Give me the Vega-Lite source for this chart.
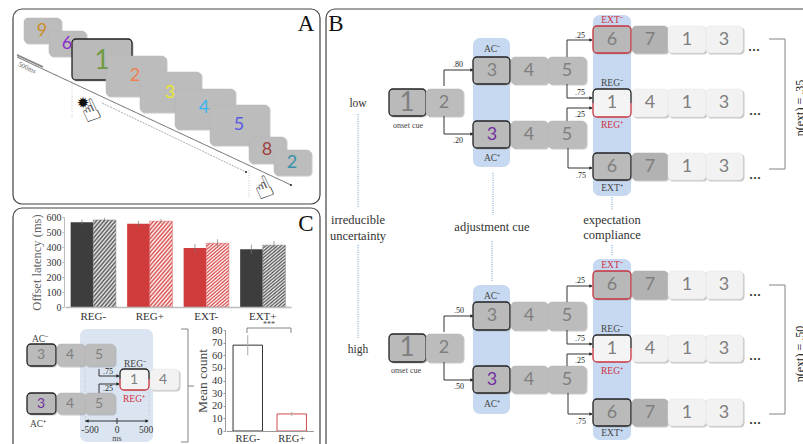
{
  "$schema": "https://vega.github.io/schema/vega-lite/v6.json",
  "width": 803,
  "height": 444,
  "padding": 0,
  "autosize": "none",
  "background": "white",
  "config": {"view": {"stroke": null}},
  "datasets": {
    "frames": [
      {"x": 13, "x2": 320, "y": 9, "y2": 204},
      {"x": 13, "x2": 320, "y": 208, "y2": 452},
      {"x": 326, "x2": 830, "y": 9, "y2": 456}
    ],
    "bands": [
      {"x": 473, "x2": 510, "y": 38, "y2": 167, "kind": "b"},
      {"x": 593, "x2": 631, "y": 15, "y2": 196, "kind": "b"},
      {"x": 473, "x2": 510, "y": 285, "y2": 414, "kind": "b"},
      {"x": 593, "x2": 631, "y": 259, "y2": 440, "kind": "b"},
      {"x": 80, "x2": 153, "y": 329, "y2": 442, "kind": "p"}
    ],
    "boxes": [
      {"x": 24, "x2": 61, "y": 18, "y2": 43, "kind": "g"},
      {"x": 49, "x2": 86, "y": 31, "y2": 56, "kind": "g"},
      {"x": 72, "x2": 132, "y": 39, "y2": 80, "kind": "k"},
      {"x": 106, "x2": 166, "y": 56, "y2": 96, "kind": "g"},
      {"x": 140, "x2": 201, "y": 72, "y2": 112, "kind": "g"},
      {"x": 175, "x2": 235, "y": 89, "y2": 129, "kind": "g"},
      {"x": 210, "x2": 269, "y": 105, "y2": 145, "kind": "g"},
      {"x": 249, "x2": 286, "y": 137, "y2": 163, "kind": "g"},
      {"x": 274, "x2": 311, "y": 150, "y2": 175, "kind": "g"},

      {"x": 27, "x2": 56, "y": 344, "y2": 366, "kind": "k"},
      {"x": 57, "x2": 85, "y": 344, "y2": 366, "kind": "g"},
      {"x": 85, "x2": 115, "y": 344, "y2": 366, "kind": "g"},
      {"x": 27, "x2": 56, "y": 393, "y2": 414, "kind": "k"},
      {"x": 57, "x2": 85, "y": 393, "y2": 414, "kind": "g"},
      {"x": 85, "x2": 115, "y": 393, "y2": 414, "kind": "g"},
      {"x": 150, "x2": 179, "y": 369, "y2": 390, "kind": "l"},

      {"x": 389, "x2": 426, "y": 89, "y2": 116, "kind": "k"},
      {"x": 426, "x2": 463, "y": 89, "y2": 116, "kind": "g"},
      {"x": 473, "x2": 510, "y": 57, "y2": 84, "kind": "k"},
      {"x": 511, "x2": 548, "y": 57, "y2": 84, "kind": "g"},
      {"x": 548, "x2": 586, "y": 57, "y2": 84, "kind": "g"},
      {"x": 473, "x2": 510, "y": 121, "y2": 148, "kind": "k"},
      {"x": 511, "x2": 548, "y": 121, "y2": 148, "kind": "g"},
      {"x": 548, "x2": 586, "y": 121, "y2": 148, "kind": "g"},
      {"x": 593, "x2": 631, "y": 26, "y2": 53, "kind": "r"},
      {"x": 632, "x2": 668, "y": 26, "y2": 53, "kind": "d"},
      {"x": 668, "x2": 706, "y": 26, "y2": 53, "kind": "l"},
      {"x": 706, "x2": 743, "y": 26, "y2": 53, "kind": "l"},
      {"x": 632, "x2": 668, "y": 89, "y2": 117, "kind": "l"},
      {"x": 668, "x2": 706, "y": 89, "y2": 117, "kind": "l"},
      {"x": 706, "x2": 743, "y": 89, "y2": 117, "kind": "l"},
      {"x": 593, "x2": 631, "y": 153, "y2": 180, "kind": "k"},
      {"x": 632, "x2": 668, "y": 153, "y2": 180, "kind": "d"},
      {"x": 668, "x2": 706, "y": 153, "y2": 180, "kind": "l"},
      {"x": 706, "x2": 743, "y": 153, "y2": 180, "kind": "l"},

      {"x": 389, "x2": 426, "y": 334, "y2": 362, "kind": "k"},
      {"x": 426, "x2": 463, "y": 334, "y2": 362, "kind": "g"},
      {"x": 473, "x2": 510, "y": 302, "y2": 330, "kind": "k"},
      {"x": 511, "x2": 548, "y": 302, "y2": 330, "kind": "g"},
      {"x": 548, "x2": 586, "y": 302, "y2": 330, "kind": "g"},
      {"x": 473, "x2": 510, "y": 366, "y2": 393, "kind": "k"},
      {"x": 511, "x2": 548, "y": 366, "y2": 393, "kind": "g"},
      {"x": 548, "x2": 586, "y": 366, "y2": 393, "kind": "g"},
      {"x": 593, "x2": 631, "y": 271, "y2": 299, "kind": "r"},
      {"x": 632, "x2": 668, "y": 271, "y2": 299, "kind": "d"},
      {"x": 668, "x2": 706, "y": 271, "y2": 299, "kind": "l"},
      {"x": 706, "x2": 743, "y": 271, "y2": 299, "kind": "l"},
      {"x": 632, "x2": 668, "y": 335, "y2": 362, "kind": "l"},
      {"x": 668, "x2": 706, "y": 335, "y2": 362, "kind": "l"},
      {"x": 706, "x2": 743, "y": 335, "y2": 362, "kind": "l"},
      {"x": 593, "x2": 631, "y": 399, "y2": 426, "kind": "k"},
      {"x": 632, "x2": 668, "y": 399, "y2": 426, "kind": "d"},
      {"x": 668, "x2": 706, "y": 399, "y2": 426, "kind": "l"},
      {"x": 706, "x2": 743, "y": 399, "y2": 426, "kind": "l"}
    ],
    "regs": [
      {"x": 593, "x2": 631, "y": 89, "y2": 117},
      {"x": 593, "x2": 631, "y": 335, "y2": 362},
      {"x": 120, "x2": 149, "y": 369, "y2": 390}
    ],
    "segments": [
      {"x": 17, "y": 57, "x2": 291, "y2": 185, "kind": "axis"},
      {"x": 17, "y": 55, "x2": 43, "y2": 67, "kind": "thick"},
      {"x": 102, "y": 103, "x2": 246, "y2": 172, "kind": "thin"},
      {"x": 72, "y": 81, "x2": 72, "y2": 118, "kind": "dots"},
      {"x": 249, "y": 170, "x2": 249, "y2": 198, "kind": "dots"},

      {"x": 444, "y": 86, "x2": 444, "y2": 70, "kind": "conn"},
      {"x": 444, "y": 70, "x2": 472, "y2": 70, "kind": "conn"},
      {"x": 444, "y": 116, "x2": 444, "y2": 134, "kind": "conn"},
      {"x": 444, "y": 134, "x2": 472, "y2": 134, "kind": "conn"},
      {"x": 444, "y": 332, "x2": 444, "y2": 316, "kind": "conn"},
      {"x": 444, "y": 316, "x2": 472, "y2": 316, "kind": "conn"},
      {"x": 444, "y": 362, "x2": 444, "y2": 380, "kind": "conn"},
      {"x": 444, "y": 380, "x2": 472, "y2": 380, "kind": "conn"},

      {"x": 567, "y": 57, "x2": 567, "y2": 40, "kind": "conn"},
      {"x": 567, "y": 40, "x2": 592, "y2": 40, "kind": "conn"},
      {"x": 567, "y": 84, "x2": 567, "y2": 98, "kind": "conn"},
      {"x": 567, "y": 98, "x2": 592, "y2": 98, "kind": "conn"},
      {"x": 567, "y": 121, "x2": 567, "y2": 108, "kind": "conn"},
      {"x": 567, "y": 108, "x2": 592, "y2": 108, "kind": "conn"},
      {"x": 568, "y": 148, "x2": 568, "y2": 168, "kind": "conn"},
      {"x": 568, "y": 168, "x2": 592, "y2": 168, "kind": "conn"},
      {"x": 567, "y": 302, "x2": 567, "y2": 286, "kind": "conn"},
      {"x": 567, "y": 286, "x2": 592, "y2": 286, "kind": "conn"},
      {"x": 567, "y": 330, "x2": 567, "y2": 344, "kind": "conn"},
      {"x": 567, "y": 344, "x2": 592, "y2": 344, "kind": "conn"},
      {"x": 567, "y": 366, "x2": 567, "y2": 354, "kind": "conn"},
      {"x": 567, "y": 354, "x2": 592, "y2": 354, "kind": "conn"},
      {"x": 568, "y": 393, "x2": 568, "y2": 414, "kind": "conn"},
      {"x": 568, "y": 414, "x2": 592, "y2": 414, "kind": "conn"},

      {"x": 99, "y": 369, "x2": 99, "y2": 376, "kind": "conn"},
      {"x": 99, "y": 376, "x2": 119, "y2": 376, "kind": "conn"},
      {"x": 99, "y": 393, "x2": 99, "y2": 384, "kind": "conn"},
      {"x": 99, "y": 384, "x2": 119, "y2": 384, "kind": "conn"},
      {"x": 85, "y": 366, "x2": 85, "y2": 420, "kind": "dots"},
      {"x": 149, "y": 390, "x2": 149, "y2": 420, "kind": "dots"},
      {"x": 85, "y": 421, "x2": 148, "y2": 421, "kind": "conn"},
      {"x": 117, "y": 418, "x2": 117, "y2": 424, "kind": "conn"},

      {"x": 181, "y": 329, "x2": 188, "y2": 329, "kind": "bracket"},
      {"x": 188, "y": 329, "x2": 188, "y2": 442, "kind": "bracket"},
      {"x": 181, "y": 442, "x2": 188, "y2": 442, "kind": "bracket"},
      {"x": 188, "y": 386, "x2": 194, "y2": 386, "kind": "bracket"},
      {"x": 247, "y": 328, "x2": 291, "y2": 328, "kind": "bracket"},
      {"x": 247, "y": 328, "x2": 247, "y2": 333, "kind": "bracket"},
      {"x": 291, "y": 328, "x2": 291, "y2": 333, "kind": "bracket"},

      {"x": 769, "y": 39, "x2": 785, "y2": 39, "kind": "bracket"},
      {"x": 785, "y": 39, "x2": 785, "y2": 169, "kind": "bracket"},
      {"x": 769, "y": 169, "x2": 785, "y2": 169, "kind": "bracket"},
      {"x": 769, "y": 285, "x2": 785, "y2": 285, "kind": "bracket"},
      {"x": 785, "y": 285, "x2": 785, "y2": 414, "kind": "bracket"},
      {"x": 769, "y": 414, "x2": 785, "y2": 414, "kind": "bracket"},

      {"x": 358, "y": 114, "x2": 358, "y2": 208, "kind": "blue"},
      {"x": 358, "y": 245, "x2": 358, "y2": 339, "kind": "blue"},
      {"x": 493, "y": 173, "x2": 493, "y2": 215, "kind": "blue"},
      {"x": 492, "y": 241, "x2": 492, "y2": 281, "kind": "blue"},
      {"x": 612, "y": 197, "x2": 612, "y2": 210, "kind": "blue"},
      {"x": 612, "y": 245, "x2": 612, "y2": 256, "kind": "blue"}
    ],
    "heads": [
      {"x": 472, "y": 70, "dir": "right"},
      {"x": 472, "y": 134, "dir": "right"},
      {"x": 472, "y": 316, "dir": "right"},
      {"x": 472, "y": 380, "dir": "right"},
      {"x": 591, "y": 40, "dir": "right"},
      {"x": 591, "y": 98, "dir": "right"},
      {"x": 591, "y": 108, "dir": "right"},
      {"x": 591, "y": 168, "dir": "right"},
      {"x": 591, "y": 286, "dir": "right"},
      {"x": 591, "y": 344, "dir": "right"},
      {"x": 591, "y": 354, "dir": "right"},
      {"x": 591, "y": 414, "dir": "right"},
      {"x": 118, "y": 376, "dir": "right"},
      {"x": 118, "y": 384, "dir": "right"},
      {"x": 147, "y": 421, "dir": "right"},
      {"x": 87, "y": 421, "dir": "left"},
      {"x": 291, "y": 185, "dir": "dot"},
      {"x": 246, "y": 172, "dir": "dot"}
    ],
    "digits": [
      {"x": 42, "y": 31, "text": "9", "tone": "amber", "scale": "m"},
      {"x": 67, "y": 44, "text": "6", "tone": "violet", "scale": "m"},
      {"x": 102, "y": 61, "text": "1", "tone": "green", "scale": "l"},
      {"x": 135, "y": 76, "text": "2", "tone": "orange", "scale": "m"},
      {"x": 170, "y": 93, "text": "3", "tone": "yellow", "scale": "m"},
      {"x": 204, "y": 108, "text": "4", "tone": "sky", "scale": "m"},
      {"x": 239, "y": 125, "text": "5", "tone": "blue", "scale": "m"},
      {"x": 267, "y": 150, "text": "8", "tone": "maroon", "scale": "m"},
      {"x": 292, "y": 163, "text": "2", "tone": "teal", "scale": "m"},

      {"x": 41, "y": 355, "text": "3", "tone": "grey", "scale": "s"},
      {"x": 70, "y": 355, "text": "4", "tone": "grey", "scale": "s"},
      {"x": 99, "y": 355, "text": "5", "tone": "grey", "scale": "s"},
      {"x": 41, "y": 404, "text": "3", "tone": "purple", "scale": "s"},
      {"x": 70, "y": 404, "text": "4", "tone": "grey", "scale": "s"},
      {"x": 99, "y": 404, "text": "5", "tone": "grey", "scale": "s"},
      {"x": 134, "y": 380, "text": "1", "tone": "grey", "scale": "s"},
      {"x": 163, "y": 380, "text": "4", "tone": "grey", "scale": "s"},

      {"x": 407, "y": 103, "text": "1", "tone": "grey", "scale": "l"},
      {"x": 444, "y": 103, "text": "2", "tone": "grey", "scale": "m"},
      {"x": 492, "y": 71, "text": "3", "tone": "grey", "scale": "m"},
      {"x": 529, "y": 71, "text": "4", "tone": "grey", "scale": "m"},
      {"x": 567, "y": 71, "text": "5", "tone": "grey", "scale": "m"},
      {"x": 492, "y": 135, "text": "3", "tone": "purple", "scale": "m"},
      {"x": 529, "y": 135, "text": "4", "tone": "grey", "scale": "m"},
      {"x": 567, "y": 135, "text": "5", "tone": "grey", "scale": "m"},
      {"x": 612, "y": 40, "text": "6", "tone": "grey", "scale": "m"},
      {"x": 650, "y": 40, "text": "7", "tone": "grey", "scale": "m"},
      {"x": 687, "y": 40, "text": "1", "tone": "grey", "scale": "m"},
      {"x": 724, "y": 40, "text": "3", "tone": "grey", "scale": "m"},
      {"x": 612, "y": 103, "text": "1", "tone": "grey", "scale": "m"},
      {"x": 650, "y": 103, "text": "4", "tone": "grey", "scale": "m"},
      {"x": 687, "y": 103, "text": "1", "tone": "grey", "scale": "m"},
      {"x": 724, "y": 103, "text": "3", "tone": "grey", "scale": "m"},
      {"x": 612, "y": 167, "text": "6", "tone": "grey", "scale": "m"},
      {"x": 650, "y": 167, "text": "7", "tone": "grey", "scale": "m"},
      {"x": 687, "y": 167, "text": "1", "tone": "grey", "scale": "m"},
      {"x": 724, "y": 167, "text": "3", "tone": "grey", "scale": "m"},

      {"x": 407, "y": 348, "text": "1", "tone": "grey", "scale": "l"},
      {"x": 444, "y": 348, "text": "2", "tone": "grey", "scale": "m"},
      {"x": 492, "y": 316, "text": "3", "tone": "grey", "scale": "m"},
      {"x": 529, "y": 316, "text": "4", "tone": "grey", "scale": "m"},
      {"x": 567, "y": 316, "text": "5", "tone": "grey", "scale": "m"},
      {"x": 492, "y": 380, "text": "3", "tone": "purple", "scale": "m"},
      {"x": 529, "y": 380, "text": "4", "tone": "grey", "scale": "m"},
      {"x": 567, "y": 380, "text": "5", "tone": "grey", "scale": "m"},
      {"x": 612, "y": 285, "text": "6", "tone": "grey", "scale": "m"},
      {"x": 650, "y": 285, "text": "7", "tone": "grey", "scale": "m"},
      {"x": 687, "y": 285, "text": "1", "tone": "grey", "scale": "m"},
      {"x": 724, "y": 285, "text": "3", "tone": "grey", "scale": "m"},
      {"x": 612, "y": 349, "text": "1", "tone": "grey", "scale": "m"},
      {"x": 650, "y": 349, "text": "4", "tone": "grey", "scale": "m"},
      {"x": 687, "y": 349, "text": "1", "tone": "grey", "scale": "m"},
      {"x": 724, "y": 349, "text": "3", "tone": "grey", "scale": "m"},
      {"x": 612, "y": 413, "text": "6", "tone": "grey", "scale": "m"},
      {"x": 650, "y": 413, "text": "7", "tone": "grey", "scale": "m"},
      {"x": 687, "y": 413, "text": "1", "tone": "grey", "scale": "m"},
      {"x": 724, "y": 413, "text": "3", "tone": "grey", "scale": "m"}
    ],
    "labels": [
      {"x": 306, "y": 24, "text": "A", "role": "panel"},
      {"x": 336, "y": 24, "text": "B", "role": "panel"},
      {"x": 306, "y": 224, "text": "C", "role": "panel"},
      {"x": 358, "y": 104, "text": "low", "role": "cond"},
      {"x": 358, "y": 350, "text": "high", "role": "cond"},
      {"x": 358, "y": 220, "text": "irreducible", "role": "head"},
      {"x": 358, "y": 236, "text": "uncertainty", "role": "head"},
      {"x": 492, "y": 227, "text": "adjustment cue", "role": "head"},
      {"x": 612, "y": 220, "text": "expectation", "role": "head"},
      {"x": 612, "y": 235, "text": "compliance", "role": "head"},
      {"x": 408, "y": 126, "text": "onset cue", "role": "small"},
      {"x": 406, "y": 371, "text": "onset cue", "role": "small"},
      {"x": 492, "y": 49, "text": "AC⁻", "role": "cue"},
      {"x": 492, "y": 158, "text": "AC⁺", "role": "cue"},
      {"x": 492, "y": 296, "text": "AC⁻", "role": "cue"},
      {"x": 492, "y": 404, "text": "AC⁺", "role": "cue"},
      {"x": 612, "y": 20, "text": "EXT⁻", "role": "red"},
      {"x": 612, "y": 83, "text": "REG⁻", "role": "cue"},
      {"x": 612, "y": 125, "text": "REG⁺", "role": "red"},
      {"x": 612, "y": 188, "text": "EXT⁺", "role": "cue"},
      {"x": 612, "y": 265, "text": "EXT⁻", "role": "red"},
      {"x": 612, "y": 329, "text": "REG⁻", "role": "cue"},
      {"x": 612, "y": 371, "text": "REG⁺", "role": "red"},
      {"x": 612, "y": 433, "text": "EXT⁺", "role": "cue"},
      {"x": 458, "y": 65, "text": ".80", "role": "prob"},
      {"x": 458, "y": 141, "text": ".20", "role": "prob"},
      {"x": 459, "y": 311, "text": ".50", "role": "prob"},
      {"x": 459, "y": 387, "text": ".50", "role": "prob"},
      {"x": 580, "y": 36, "text": ".25", "role": "prob"},
      {"x": 580, "y": 93, "text": ".75", "role": "prob"},
      {"x": 580, "y": 115, "text": ".25", "role": "prob"},
      {"x": 581, "y": 176, "text": ".75", "role": "prob"},
      {"x": 580, "y": 281, "text": ".25", "role": "prob"},
      {"x": 580, "y": 339, "text": ".75", "role": "prob"},
      {"x": 580, "y": 361, "text": ".25", "role": "prob"},
      {"x": 581, "y": 422, "text": ".75", "role": "prob"},
      {"x": 108, "y": 372, "text": ".75", "role": "prob"},
      {"x": 108, "y": 389, "text": ".25", "role": "prob"},
      {"x": 40, "y": 339, "text": "AC⁻", "role": "cue"},
      {"x": 38, "y": 424, "text": "AC⁺", "role": "cue"},
      {"x": 135, "y": 364, "text": "REG⁻", "role": "cue"},
      {"x": 134, "y": 399, "text": "REG⁺", "role": "red"},
      {"x": 90, "y": 430, "text": "-500", "role": "tick"},
      {"x": 117, "y": 430, "text": "0", "role": "tick"},
      {"x": 146, "y": 430, "text": "500", "role": "tick"},
      {"x": 117, "y": 439, "text": "ms", "role": "small"},
      {"x": 269, "y": 325, "text": "***", "role": "small"},
      {"x": 754, "y": 46, "text": "...", "role": "dots"},
      {"x": 755, "y": 110, "text": "...", "role": "dots"},
      {"x": 755, "y": 174, "text": "...", "role": "dots"},
      {"x": 755, "y": 291, "text": "...", "role": "dots"},
      {"x": 755, "y": 355, "text": "...", "role": "dots"},
      {"x": 755, "y": 419, "text": "...", "role": "dots"}
    ],
    "sideLabels": [
      {"x": 804, "y": 108, "text": "p(ext) = .35"},
      {"x": 804, "y": 354, "text": "p(ext) = .50"}
    ],
    "hands": [
      {"x": 91, "y": 112, "text": "☝"},
      {"x": 264, "y": 189, "text": "☝"}
    ],
    "timing": [{"x": 27, "y": 68, "text": "500ms"}],
    "sun": [{"x": 83, "y": 103, "text": "✹"}],
    "latency": [
      {"label": "REG-", "cond": "solid", "ms": 565, "lo": 550, "hi": 582, "tone": "dark"},
      {"label": "REG-", "cond": "hatched", "ms": 580, "lo": 565, "hi": 595, "tone": "dark"},
      {"label": "REG+", "cond": "solid", "ms": 555, "lo": 537, "hi": 573, "tone": "red"},
      {"label": "REG+", "cond": "hatched", "ms": 572, "lo": 557, "hi": 587, "tone": "red"},
      {"label": "EXT-", "cond": "solid", "ms": 393, "lo": 366, "hi": 420, "tone": "red"},
      {"label": "EXT-", "cond": "hatched", "ms": 425, "lo": 395, "hi": 452, "tone": "red"},
      {"label": "EXT+", "cond": "solid", "ms": 385, "lo": 355, "hi": 415, "tone": "dark"},
      {"label": "EXT+", "cond": "hatched", "ms": 412, "lo": 384, "hi": 440, "tone": "dark"}
    ],
    "counts": [
      {"label": "REG-", "count": 68, "lo": 60, "hi": 76},
      {"label": "REG+", "count": 13.5, "lo": 12, "hi": 15}
    ]
  },
  "resolve": {
    "scale": {"x": "independent", "y": "independent", "fill": "independent", "stroke": "independent"},
    "axis": {"x": "independent", "y": "independent"}
  },
  "layer": [
    {
      "resolve": {"scale": {"fill": "independent", "stroke": "independent", "color": "independent", "size": "independent", "strokeWidth": "independent"}},
      "encoding": {
        "x": {"field": "x", "type": "quantitative", "axis": null, "scale": {"domain": [0, 803], "range": [0, 803], "nice": false, "zero": false}},
        "y": {"field": "y", "type": "quantitative", "axis": null, "scale": {"domain": [0, 444], "range": [0, 444], "nice": false, "zero": false}}
      },
      "layer": [
        {
          "data": {"name": "frames"},
          "mark": {"type": "rect", "cornerRadius": 9, "fill": "white", "stroke": "#444", "strokeWidth": 1.2},
          "encoding": {"x2": {"field": "x2"}, "y2": {"field": "y2"}}
        },
        {
          "data": {"name": "bands"},
          "mark": {"type": "rect", "cornerRadius": 7},
          "encoding": {
            "x2": {"field": "x2"}, "y2": {"field": "y2"},
            "fill": {"field": "kind", "type": "nominal", "legend": null, "scale": {"domain": ["b", "p"], "range": ["#c6d9f0", "#dbe5f1"]}}
          }
        },
        {
          "data": {"name": "boxes"},
          "mark": {"type": "rect", "cornerRadius": 4, "xOffset": 1, "x2Offset": 1.5, "yOffset": 1, "y2Offset": 1.5, "fill": "#999", "opacity": 0.55},
          "encoding": {"x2": {"field": "x2"}, "y2": {"field": "y2"}}
        },
        {
          "data": {"name": "boxes"},
          "mark": {"type": "rect", "cornerRadius": 4},
          "encoding": {
            "x2": {"field": "x2"}, "y2": {"field": "y2"},
            "fill": {"field": "kind", "type": "nominal", "legend": null, "scale": {"domain": ["g", "k", "r", "l", "d"], "range": ["#bcbcbc", "#bababa", "#b8b8b8", "#f2f2f2", "#b2b2b2"]}},
            "stroke": {"field": "kind", "type": "nominal", "legend": null, "scale": {"domain": ["g", "k", "r", "l", "d"], "range": ["#b4b4b4", "#222222", "#c8323c", "#e4e4e4", "#aaaaaa"]}},
            "strokeWidth": {"field": "kind", "type": "nominal", "legend": null, "scale": {"type": "ordinal", "domain": ["g", "k", "r", "l", "d"], "range": [0.5, 1.3, 1.3, 0.5, 0.5]}}
          }
        },
        {
          "data": {"name": "regs"},
          "mark": {
            "type": "rect", "cornerRadius": 4, "fill": "#f4f4f4", "strokeWidth": 1.3,
            "stroke": {"gradient": "linear", "x1": 0, "y1": 0, "x2": 0, "y2": 1, "stops": [
              {"offset": 0, "color": "#222222"}, {"offset": 0.5, "color": "#222222"},
              {"offset": 0.5, "color": "#c8323c"}, {"offset": 1, "color": "#c8323c"}
            ]}
          },
          "encoding": {"x2": {"field": "x2"}, "y2": {"field": "y2"}}
        },
        {
          "data": {"name": "segments"},
          "mark": {"type": "rule"},
          "encoding": {
            "x2": {"field": "x2"}, "y2": {"field": "y2"},
            "color": {"field": "kind", "type": "nominal", "legend": null, "scale": {"domain": ["conn", "axis", "thick", "thin", "dots", "bracket", "blue"], "range": ["#333333", "#555555", "#888888", "#777777", "#b5b5b5", "#777777", "#6b9bc8"]}},
            "strokeWidth": {"field": "kind", "type": "nominal", "legend": null, "scale": {"type": "ordinal", "domain": ["conn", "axis", "thick", "thin", "dots", "bracket", "blue"], "range": [1, 0.9, 1.8, 0.6, 0.8, 0.9, 1]}},
            "strokeDash": {"field": "kind", "type": "nominal", "legend": null, "scale": {"domain": ["conn", "axis", "thick", "thin", "dots", "bracket", "blue"], "range": [[1, 0], [1, 0], [1, 0], [2, 1], [1, 1.5], [1, 0], [1, 1.3]]}}
          }
        },
        {
          "data": {"name": "heads"},
          "mark": {"type": "point", "filled": true, "opacity": 1, "color": "#222"},
          "encoding": {
            "shape": {"field": "dir", "type": "nominal", "legend": null, "scale": {"domain": ["right", "left", "dot"], "range": ["triangle-right", "triangle-left", "circle"]}},
            "size": {"field": "dir", "type": "nominal", "legend": null, "scale": {"type": "ordinal", "domain": ["right", "left", "dot"], "range": [14, 14, 4]}}
          }
        },
        {
          "data": {"name": "digits"},
          "mark": {"type": "text", "font": "Lato", "baseline": "middle", "align": "center"},
          "encoding": {
            "text": {"field": "text"},
            "color": {"field": "tone", "type": "nominal", "legend": null, "scale": {"domain": ["grey", "purple", "amber", "violet", "green", "orange", "yellow", "sky", "blue", "maroon", "teal"], "range": ["#7f7f7f", "#7030a0", "#c98f2a", "#8b2fc9", "#6f9a3f", "#f08050", "#e8e82e", "#35b5f0", "#5a5ae0", "#a04040", "#3a90a8"]}},
            "size": {"field": "scale", "type": "nominal", "legend": null, "scale": {"type": "ordinal", "domain": ["s", "m", "l"], "range": [14, 18, 26]}}
          }
        },
        {
          "data": {"name": "labels"},
          "mark": {"type": "text", "font": "Liberation Serif", "baseline": "middle", "align": "center"},
          "encoding": {
            "text": {"field": "text"},
            "color": {"field": "role", "type": "nominal", "legend": null, "scale": {"domain": ["panel", "cond", "head", "small", "cue", "red", "prob", "tick", "dots"], "range": ["#111111", "#333333", "#333333", "#444444", "#444444", "#d03040", "#222222", "#333333", "#222222"]}},
            "size": {"field": "role", "type": "nominal", "legend": null, "scale": {"type": "ordinal", "domain": ["panel", "cond", "head", "small", "cue", "red", "prob", "tick", "dots"], "range": [23, 11.5, 12.5, 8, 9.5, 9.5, 8, 9.5, 16]}}
          }
        },
        {
          "data": {"name": "sideLabels"},
          "mark": {"type": "text", "font": "Liberation Serif", "fontSize": 12, "angle": 270, "align": "center", "baseline": "alphabetic", "color": "#222"},
          "encoding": {"text": {"field": "text"}}
        },
        {
          "data": {"name": "hands"},
          "mark": {"type": "text", "font": "DejaVu Sans", "fontSize": 30, "angle": 335, "align": "center", "baseline": "middle", "color": "#222"},
          "encoding": {"text": {"field": "text"}}
        },
        {
          "data": {"name": "sun"},
          "mark": {"type": "text", "font": "DejaVu Sans", "fontSize": 15, "align": "center", "baseline": "middle", "color": "#111"},
          "encoding": {"text": {"field": "text"}}
        },
        {
          "data": {"name": "timing"},
          "mark": {"type": "text", "font": "Liberation Serif", "fontSize": 7, "angle": 25, "align": "center", "baseline": "middle", "color": "#666"},
          "encoding": {"text": {"field": "text"}}
        }
      ]
    },
    {
      "data": {"name": "latency"},
      "encoding": {
        "x": {
          "field": "label", "type": "nominal", "title": null, "sort": ["REG-", "REG+", "EXT-", "EXT+"],
          "scale": {"domain": ["REG-", "REG+", "EXT-", "EXT+"], "range": [65, 291], "paddingInner": 0.2, "paddingOuter": 0.1},
          "axis": {"orient": "bottom", "zindex": 1, "offset": -137, "labelAngle": 0, "ticks": false, "labelFont": "Liberation Serif", "labelFontSize": 11, "labelColor": "#333", "labelPadding": 3, "domainColor": "#bbbbbb", "domainWidth": 1.5}
        },
        "xOffset": {"field": "cond", "type": "nominal", "scale": {"domain": ["solid", "hatched"], "paddingInner": 0, "paddingOuter": 0}},
        "y": {
          "field": "ms", "type": "quantitative",
          "scale": {"domain": [0, 600], "range": [307, 217], "nice": false},
          "axis": {"orient": "left", "zindex": 1, "offset": -64, "values": [0, 100, 200, 300, 400, 500, 600], "grid": false, "title": "Offset latency (ms)", "titleFont": "Liberation Serif", "titleFontSize": 12.5, "titleFontWeight": "normal", "titleColor": "#666", "titlePadding": 3, "labelFont": "Liberation Serif", "labelFontSize": 10, "labelColor": "#333", "labelPadding": 1, "tickSize": 2, "tickColor": "#bbbbbb", "domainColor": "#bbbbbb"}
        }
      },
      "layer": [
        {
          "transform": [{"filter": {"field": "cond", "equal": "solid"}}],
          "mark": {"type": "bar"},
          "encoding": {
            "fill": {"field": "tone", "type": "nominal", "legend": null, "scale": {"domain": ["dark", "red"], "range": ["#3d3d3d", "#d03c3c"]}}
          }
        },
        {
          "transform": [{"filter": "datum.cond === 'hatched' && datum.tone === 'dark'"}],
          "mark": {
            "type": "bar", "stroke": "#777", "strokeWidth": 0.5,
            "fill": {"gradient": "linear", "x1": 0, "y1": 0, "x2": 0.366, "y2": 1.194, "stops": [
              {"offset": 0, "color": "#555"}, {"offset": 0.02, "color": "#eee"}, {"offset": 0.04, "color": "#555"}, {"offset": 0.06, "color": "#eee"}, {"offset": 0.08, "color": "#555"}, {"offset": 0.1, "color": "#eee"}, {"offset": 0.12, "color": "#555"}, {"offset": 0.14, "color": "#eee"}, {"offset": 0.16, "color": "#555"}, {"offset": 0.18, "color": "#eee"}, {"offset": 0.2, "color": "#555"}, {"offset": 0.22, "color": "#eee"}, {"offset": 0.24, "color": "#555"}, {"offset": 0.26, "color": "#eee"}, {"offset": 0.28, "color": "#555"}, {"offset": 0.3, "color": "#eee"}, {"offset": 0.32, "color": "#555"}, {"offset": 0.34, "color": "#eee"}, {"offset": 0.36, "color": "#555"}, {"offset": 0.38, "color": "#eee"}, {"offset": 0.4, "color": "#555"}, {"offset": 0.42, "color": "#eee"}, {"offset": 0.44, "color": "#555"}, {"offset": 0.46, "color": "#eee"}, {"offset": 0.48, "color": "#555"}, {"offset": 0.5, "color": "#eee"}, {"offset": 0.52, "color": "#555"}, {"offset": 0.54, "color": "#eee"}, {"offset": 0.56, "color": "#555"}, {"offset": 0.58, "color": "#eee"}, {"offset": 0.6, "color": "#555"}, {"offset": 0.62, "color": "#eee"}, {"offset": 0.64, "color": "#555"}, {"offset": 0.66, "color": "#eee"}, {"offset": 0.68, "color": "#555"}, {"offset": 0.7, "color": "#eee"}, {"offset": 0.72, "color": "#555"}, {"offset": 0.74, "color": "#eee"}, {"offset": 0.76, "color": "#555"}, {"offset": 0.78, "color": "#eee"}, {"offset": 0.8, "color": "#555"}, {"offset": 0.82, "color": "#eee"}, {"offset": 0.84, "color": "#555"}, {"offset": 0.86, "color": "#eee"}, {"offset": 0.88, "color": "#555"}, {"offset": 0.9, "color": "#eee"}, {"offset": 0.92, "color": "#555"}, {"offset": 0.94, "color": "#eee"}, {"offset": 0.96, "color": "#555"}, {"offset": 0.98, "color": "#eee"}, {"offset": 1, "color": "#555"}
            ]}
          }
        },
        {
          "transform": [{"filter": "datum.cond === 'hatched' && datum.tone === 'red'"}],
          "mark": {
            "type": "bar", "stroke": "#d85555", "strokeWidth": 0.5,
            "fill": {"gradient": "linear", "x1": 0, "y1": 0, "x2": 0.366, "y2": 1.194, "stops": [
              {"offset": 0, "color": "#d84848"}, {"offset": 0.02, "color": "#fff"}, {"offset": 0.04, "color": "#d84848"}, {"offset": 0.06, "color": "#fff"}, {"offset": 0.08, "color": "#d84848"}, {"offset": 0.1, "color": "#fff"}, {"offset": 0.12, "color": "#d84848"}, {"offset": 0.14, "color": "#fff"}, {"offset": 0.16, "color": "#d84848"}, {"offset": 0.18, "color": "#fff"}, {"offset": 0.2, "color": "#d84848"}, {"offset": 0.22, "color": "#fff"}, {"offset": 0.24, "color": "#d84848"}, {"offset": 0.26, "color": "#fff"}, {"offset": 0.28, "color": "#d84848"}, {"offset": 0.3, "color": "#fff"}, {"offset": 0.32, "color": "#d84848"}, {"offset": 0.34, "color": "#fff"}, {"offset": 0.36, "color": "#d84848"}, {"offset": 0.38, "color": "#fff"}, {"offset": 0.4, "color": "#d84848"}, {"offset": 0.42, "color": "#fff"}, {"offset": 0.44, "color": "#d84848"}, {"offset": 0.46, "color": "#fff"}, {"offset": 0.48, "color": "#d84848"}, {"offset": 0.5, "color": "#fff"}, {"offset": 0.52, "color": "#d84848"}, {"offset": 0.54, "color": "#fff"}, {"offset": 0.56, "color": "#d84848"}, {"offset": 0.58, "color": "#fff"}, {"offset": 0.6, "color": "#d84848"}, {"offset": 0.62, "color": "#fff"}, {"offset": 0.64, "color": "#d84848"}, {"offset": 0.66, "color": "#fff"}, {"offset": 0.68, "color": "#d84848"}, {"offset": 0.7, "color": "#fff"}, {"offset": 0.72, "color": "#d84848"}, {"offset": 0.74, "color": "#fff"}, {"offset": 0.76, "color": "#d84848"}, {"offset": 0.78, "color": "#fff"}, {"offset": 0.8, "color": "#d84848"}, {"offset": 0.82, "color": "#fff"}, {"offset": 0.84, "color": "#d84848"}, {"offset": 0.86, "color": "#fff"}, {"offset": 0.88, "color": "#d84848"}, {"offset": 0.9, "color": "#fff"}, {"offset": 0.92, "color": "#d84848"}, {"offset": 0.94, "color": "#fff"}, {"offset": 0.96, "color": "#d84848"}, {"offset": 0.98, "color": "#fff"}, {"offset": 1, "color": "#d84848"}
            ]}
          }
        },
        {
          "mark": {"type": "rule", "color": "#777", "strokeWidth": 0.7},
          "encoding": {"y": {"field": "lo", "type": "quantitative"}, "y2": {"field": "hi"}}
        }
      ]
    },
    {
      "data": {"name": "counts"},
      "encoding": {
        "x": {
          "field": "label", "type": "nominal", "title": null,
          "scale": {"domain": ["REG-", "REG+"], "range": [226, 313.5], "paddingInner": 0.33, "paddingOuter": 0.16},
          "axis": {"orient": "bottom", "zindex": 1, "offset": -13, "labelAngle": 0, "ticks": false, "labelFont": "Liberation Serif", "labelFontSize": 10.5, "labelColor": "#333", "labelPadding": 2, "domainColor": "#999999"}
        },
        "y": {
          "field": "count", "type": "quantitative",
          "scale": {"domain": [0, 80], "range": [431, 330], "nice": false},
          "axis": {"orient": "left", "zindex": 1, "offset": -225, "values": [0, 10, 20, 30, 40, 50, 60, 70, 80], "grid": false, "title": "Mean count", "titleFont": "Liberation Serif", "titleFontSize": 13.5, "titleFontWeight": "normal", "titleColor": "#444", "titlePadding": 2, "labelFont": "Liberation Serif", "labelFontSize": 10.5, "labelColor": "#333", "labelPadding": 1, "tickSize": 2, "tickColor": "#999999", "domainColor": "#999999"}
        }
      },
      "layer": [
        {
          "mark": {"type": "bar", "fill": "white", "strokeWidth": 1},
          "encoding": {
            "stroke": {"field": "label", "type": "nominal", "legend": null, "scale": {"domain": ["REG-", "REG+"], "range": ["#333333", "#d04a50"]}}
          }
        },
        {
          "mark": {"type": "rule", "color": "#aaa", "strokeWidth": 1},
          "encoding": {"y": {"field": "lo", "type": "quantitative"}, "y2": {"field": "hi"}}
        }
      ]
    }
  ]
}
